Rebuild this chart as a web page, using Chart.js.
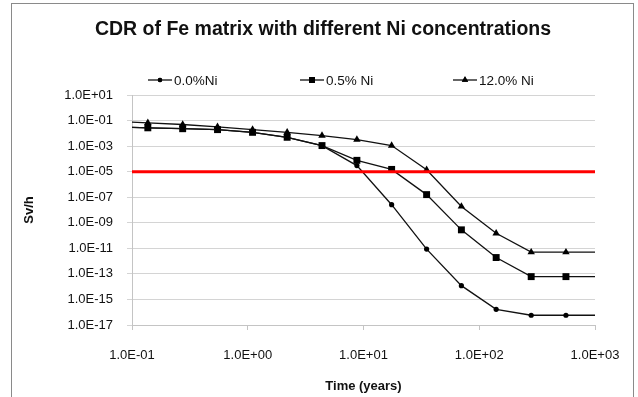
<!DOCTYPE html>
<html><head><meta charset="utf-8">
<script src="https://cdn.jsdelivr.net/npm/chart.js@4.4.0/dist/chart.umd.min.js"></script>
<style>html,body{margin:0;padding:0;background:#fff;}#wrap{width:638px;height:397px;position:relative;}</style>
</head><body><div id="wrap"><canvas id="c" width="638" height="397"></canvas></div>
<script>
// ---- data (first and last points lie just outside the axis range) ----
const timeYears = [0.0685, 0.137, 0.274, 0.548, 1.10, 2.19, 4.38, 8.77, 17.5, 35.1, 70.1, 140, 281, 561, 1122];
const ni00  = [0.031, 0.027, 0.023, 0.0195, 0.012, 0.0049, 0.0011, 3.0e-5, 2.6e-8, 8.7e-12, 1.2e-14, 1.7e-16, 5.8e-17, 5.8e-17, 5.8e-17];
const ni05  = [0.031, 0.027, 0.023, 0.0195, 0.012, 0.0049, 0.0011, 7.7e-5, 1.5e-5, 1.6e-7, 2.8e-10, 1.9e-12, 6.1e-14, 6.1e-14, 6.1e-14];
const ni120 = [0.085, 0.066, 0.049, 0.032, 0.0196, 0.012, 0.0066, 0.0032, 0.0011, 1.4e-5, 1.9e-8, 1.5e-10, 5.0e-12, 5.0e-12, 5.0e-12];
const limitX = [0.1, 1000];
const limitY = [1e-5, 1e-5];
const seriesNames = ['0.0%Ni', '0.5% Ni', '12.0% Ni'];
const xTickValues = [0.1, 1, 10, 100, 1000];
const xTickLabels = ['1.0E-01', '1.0E+00', '1.0E+01', '1.0E+02', '1.0E+03'];
const yTickValues = [1e-17, 1e-15, 1e-13, 1e-11, 1e-9, 1e-7, 1e-5, 1e-3, 1e-1, 1e1];
const yTickLabels = ['1.0E-17', '1.0E-15', '1.0E-13', '1.0E-11', '1.0E-09', '1.0E-07', '1.0E-05', '1.0E-03', '1.0E-01', '1.0E+01'];
const chartTitle = 'CDR of Fe matrix with different Ni concentrations';
const xTitle = 'Time (years)';
const yTitle = 'Sv/h';

const FONT = "'Liberation Sans', Arial, sans-serif";
const pts = ys => timeYears.map((t, i) => ({x: t, y: ys[i]}));
const styles = [
  {pointStyle: 'circle', radius: 2.6},
  {pointStyle: 'rect', radius: 4.9},
  {pointStyle: 'triangle', radius: 4.3}
];
const seriesData = [ni00, ni05, ni120];

const datasets = [{
  label: 'limit',
  data: limitX.map((x, i) => ({x, y: limitY[i]})),
  borderColor: '#ff0000', borderWidth: 3, pointRadius: 0, order: 0, clip: 0
}];
seriesData.forEach((ys, k) => datasets.push({
  label: seriesNames[k], data: pts(ys),
  borderColor: '#111', backgroundColor: '#111', borderWidth: 1.3,
  pointStyle: styles[k].pointStyle, pointRadius: styles[k].radius,
  pointBackgroundColor: '#000', pointBorderColor: '#000', pointBorderWidth: 0,
  order: 1, clip: 0
}));

const decor = {
  id: 'decor',
  beforeDraw(chart) {
    const ctx = chart.ctx;
    ctx.save();
    ctx.fillStyle = '#fff';
    ctx.fillRect(0, 0, chart.width, chart.height);
    ctx.strokeStyle = '#8a8a8a'; ctx.lineWidth = 1;
    ctx.strokeRect(11.5, 3.5, 622, 420);
    ctx.restore();
  },
  afterDraw(chart) {
    const ctx = chart.ctx;
    ctx.save();
    ctx.fillStyle = '#111';
    ctx.textAlign = 'center'; ctx.textBaseline = 'middle';
    ctx.font = "bold 19.5px " + FONT;
    ctx.fillText(chartTitle, 323, 30);
    // legend
    const starts = [148, 300, 453];
    const y = 80;
    ctx.font = "13.5px " + FONT;
    ctx.textAlign = 'left';
    seriesNames.forEach((name, k) => {
      const x0 = starts[k];
      ctx.strokeStyle = '#111'; ctx.lineWidth = 1.3;
      ctx.beginPath(); ctx.moveTo(x0, y); ctx.lineTo(x0 + 24, y); ctx.stroke();
      ctx.fillStyle = '#000';
      Chart.helpers.drawPoint(ctx, {pointStyle: styles[k].pointStyle, radius: styles[k].radius * 0.85, rotation: 0, borderWidth: 0}, x0 + 12, y);
      ctx.fill();
      ctx.fillStyle = '#111';
      ctx.fillText(name, x0 + 26, y + 1);
    });
    ctx.restore();
  }
};

new Chart(document.getElementById('c'), {
  type: 'line',
  data: {datasets},
  options: {
    responsive: false, animation: false,
    layout: {padding: {top: 95, left: 0, right: 43, bottom: 0}},
    plugins: {legend: {display: false}, title: {display: false}, tooltip: {enabled: false}},
    elements: {line: {tension: 0}},
    scales: {
      x: {
        type: 'logarithmic', min: 0.1, max: 1000,
        afterBuildTicks: s => { s.ticks = xTickValues.map(v => ({value: v})); },
        afterFit: s => { s.height = 72; },
        ticks: {autoSkip: false, maxRotation: 0, padding: 18, color: '#111', font: {family: FONT, size: 13},
                callback: (v, i) => xTickLabels[i]},
        grid: {drawOnChartArea: false, drawTicks: true, tickLength: 5, color: '#c4c4c4'},
        border: {display: true, color: '#c4c4c4'},
        title: {display: true, text: xTitle, color: '#111', font: {family: FONT, size: 13, weight: 'bold'}, padding: {top: 0, bottom: 3}}
      },
      y: {
        type: 'logarithmic', min: 1e-17, max: 10,
        afterBuildTicks: s => { s.ticks = yTickValues.map(v => ({value: v})); },
        afterFit: s => { s.width = 132; },
        ticks: {autoSkip: false, padding: 14, color: '#111', font: {family: FONT, size: 13},
                callback: (v, i) => yTickLabels[i]},
        grid: {drawTicks: true, tickLength: 5, color: '#d4d4d4'},
        border: {display: true, color: '#c4c4c4'},
        title: {display: true, text: yTitle, color: '#111', font: {family: FONT, size: 13, weight: 'bold'}, padding: {top: 22, bottom: 0}}
      }
    }
  },
  plugins: [decor]
});
</script></body></html>
